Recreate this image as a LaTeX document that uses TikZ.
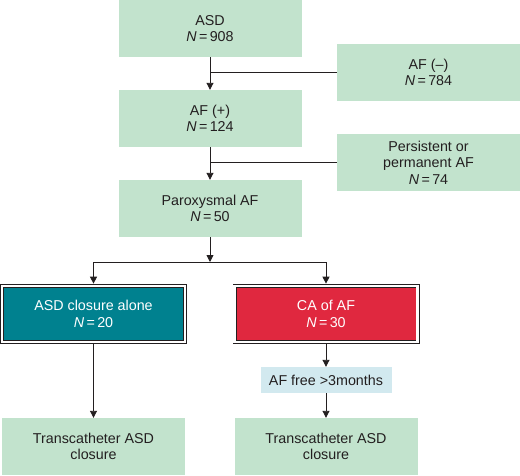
\documentclass[tikz,border=0pt]{standalone}
\usepackage{fontspec}
\setmainfont{Liberation Sans}
\usetikzlibrary{arrows.meta}
\definecolor{boxgreen}{HTML}{C2E3CD}
\definecolor{boxteal}{HTML}{00818F}
\definecolor{boxred}{HTML}{E0283F}
\definecolor{boxblue}{HTML}{D2E9EF}
\definecolor{ink}{HTML}{231F20}
\begin{document}
\begin{tikzpicture}[x=1pt,y=-1pt,>={Triangle[width=7pt,length=7pt]},
    box/.style={fill=boxgreen,text=ink,align=center,minimum width=183pt,minimum height=57pt,inner sep=0pt,font=\fontsize{14.3}{16.5}\selectfont},
    dbox/.style={box,draw=ink,line width=0.7pt,double=white,double distance=2.6pt,text=white,minimum height=56pt},
    line/.style={draw=ink,line width=0.9pt}]
\useasboundingbox (0,0) rectangle (520,475);

\node[box] (asd) at (210,28.5) {ASD\\\textit{N}\,=\,908};
\node[box] (afneg) at (428.5,72.5) {AF (--)\\\textit{N}\,=\,784};
\node[box] (afpos) at (210,118.5) {AF (+)\\\textit{N}\,=\,124};
\node[box] (pers) at (428.5,162.5) {Persistent or\\permanent AF\\\textit{N}\,=\,74};
\node[box] (parox) at (210,208.5) {Paroxysmal AF\\\textit{N}\,=\,50};
\node[dbox,fill=boxteal] (alone) at (93.5,314) {ASD closure alone\\\textit{N}\,=\,20};
\node[dbox,fill=boxred] (ca) at (326,314) {CA of AF\\\textit{N}\,=\,30};
\node[box,fill=boxblue,minimum width=131pt,minimum height=26pt] (free) at (326,380) {AF free >3months};
\node[box] (trans1) at (93.5,446.5) {Transcatheter ASD\\closure};
\node[box] (trans2) at (326,446.5) {Transcatheter ASD\\closure};
\coordinate (split) at (210,262);

\draw[line,->] (asd) -- (afpos);
\draw[line] (afneg.west) -- (afneg.west -| asd.south);
\draw[line,->] (afpos) -- (parox);
\draw[line] (pers.west) -- (pers.west -| afpos.south);
\draw[line,->] (parox) -- (split);
\draw[line] (split -| alone) -- (split -| ca);
\draw[line,->,shorten >=2pt] (split -| alone) -- (alone);
\draw[line,->,shorten >=2pt] (split -| ca) -- (ca);
\draw[line,->,shorten <=2pt] (alone) -- (trans1);
\draw[line,->,shorten <=2pt] (ca) -- (free);
\draw[line,->] (free) -- (trans2);
\end{tikzpicture}
\end{document}
